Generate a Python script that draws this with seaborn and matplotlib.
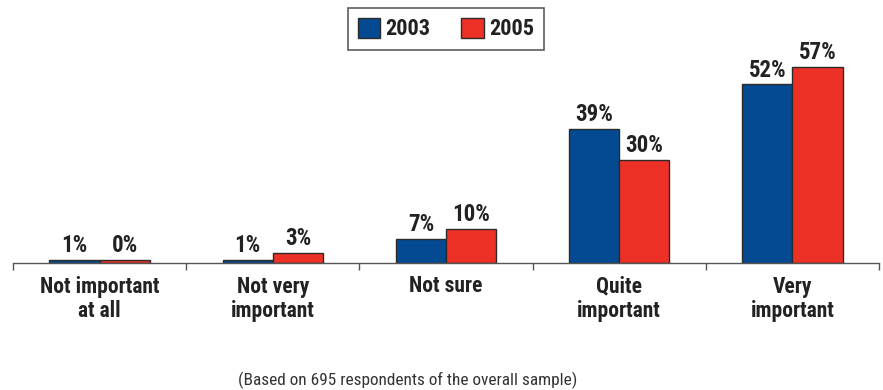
import matplotlib
matplotlib.use("Agg")
import matplotlib.pyplot as plt
import seaborn as sns
import pandas as pd
import numpy as np
from matplotlib.patches import Patch

categories = ["Not important\nat all", "Not very\nimportant", "Not sure", "Quite\nimportant", "Very\nimportant"]
years = ["2003", "2005"]
values_2003 = [1, 1, 7, 39, 52]
values_2005 = [0.8, 3, 10, 30, 57]
labels_2003 = ["1%", "1%", "7%", "39%", "52%"]
labels_2005 = ["0%", "3%", "10%", "30%", "57%"]
colors = ["#044A92", "#EE3127"]
footnote = "(Based on 695 respondents of the overall sample)"

sns.set_style("white")
fam = ["Liberation Sans Narrow", "Roboto Condensed", "DejaVu Sans"]
plt.rcParams["font.family"] = fam

df = pd.DataFrame({
    "category": categories * 2,
    "year": [years[0]] * len(categories) + [years[1]] * len(categories),
    "value": values_2003 + values_2005,
})

fig = plt.figure(figsize=(8.83, 3.90), dpi=100)
ax = fig.add_axes([13 / 883, 1 - 263 / 390, (879 - 13) / 883, 213 / 390])

sns.barplot(data=df, x="category", y="value", hue="year", order=categories,
            hue_order=years, palette=colors, width=0.58, gap=0,
            edgecolor="#2b2b2b", linewidth=1.0, saturation=1, ax=ax, legend=False)

ax.set_xlim(-0.5, len(categories) - 0.5)
ax.set_ylim(0, 62)
ax.set_xlabel("")
ax.set_ylabel("")
ax.set_yticks([])

for cont, labs in zip(ax.containers, [labels_2003, labels_2005]):
    ax.bar_label(cont, labels=labs, padding=2, fontsize=16.5, fontweight="bold",
                 color="#222222")

for s in ["top", "left", "right"]:
    ax.spines[s].set_visible(False)
ax.spines["bottom"].set_color("#555555")
ax.spines["bottom"].set_linewidth(1.0)

ax.set_xticks(range(len(categories)))
ax.set_xticklabels(categories, fontsize=15.5, fontweight="bold", color="#222222",
                   linespacing=1.15)
ax.tick_params(axis="x", which="major", length=0, pad=9)
ax.set_xticks(np.arange(-0.5, len(categories), 1.0), minor=True)
ax.tick_params(axis="x", which="minor", length=5, width=1, color="#555555",
               direction="out", bottom=True)

handles = [Patch(facecolor=c, edgecolor="#2b2b2b", linewidth=1.0) for c in colors]
leg = fig.legend(handles, years, loc="center", bbox_to_anchor=(446 / 883, 1 - 29 / 390),
                 ncol=2, frameon=True, fancybox=False, edgecolor="#333333",
                 handlelength=1.0, handleheight=1.0, handletextpad=0.25,
                 columnspacing=1.4, borderpad=0.45,
                 prop={"family": fam, "weight": "bold", "size": 16})
leg.get_frame().set_linewidth(1.2)
for t in leg.get_texts():
    t.set_color("#222222")

fig.text(408 / 883, 1 - 380 / 390, footnote, ha="center", va="center",
         fontsize=12.4, color="#333333")

fig.savefig("out.png", dpi=100)
